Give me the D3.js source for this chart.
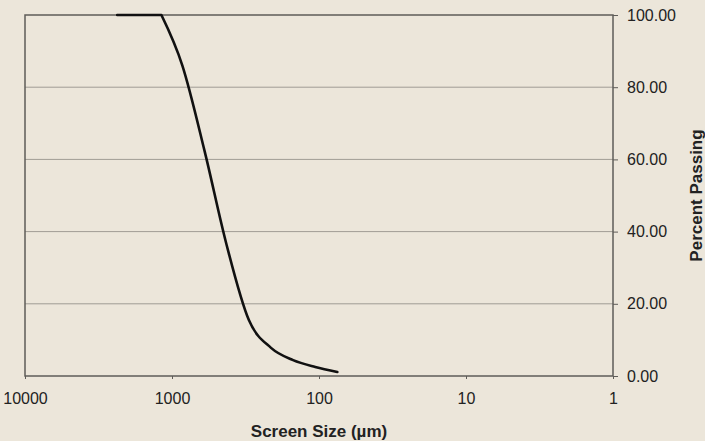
<!DOCTYPE html>
<html>
<head>
<meta charset="utf-8">
<script src="https://cdn.jsdelivr.net/npm/d3@7"></script>
<style>
  html, body { margin: 0; padding: 0; background: #ece6da; }
  svg { display: block; }
  text { font-family: "Liberation Sans", Arial, sans-serif; fill: #222; }
</style>
</head>
<body>
<svg id="chart" width="705" height="441"></svg>
<script>
// Data: screen size (µm) and cumulative percent passing
const sizes   = [2360, 1180, 850, 600, 425, 300, 212, 150, 106, 75];
const passing = [100, 100, 86.0, 62.3, 36.3, 15.5, 7.8, 4.4, 2.5, 1.1];
const xTicks  = [10000, 1000, 100, 10, 1];
const yTicks  = [0, 20, 40, 60, 80, 100];
const xTitle  = "Screen Size (µm)";
const yTitle  = "Percent Passing";

(function () {
const svg = d3.select("#chart");
const pL = 25, pR = 613, pT = 15, pB = 376;

const x = d3.scaleLog().domain([10000, 1]).range([pL, pR]);
const y = d3.scaleLinear().domain([0, 100]).range([pB, pT]);

// horizontal gridlines
svg.append("g").selectAll("line").data(yTicks.filter(d => d > 0 && d < 100)).join("line")
  .attr("x1", pL).attr("x2", pR)
  .attr("y1", d => y(d)).attr("y2", d => y(d))
  .attr("stroke", "#a09c94").attr("stroke-width", 1);

// frame
svg.append("rect").attr("x", pL).attr("y", pT)
  .attr("width", pR - pL).attr("height", pB - pT)
  .attr("fill", "none").attr("stroke", "#5e5c58").attr("stroke-width", 1.5);

// right axis
const yAxis = d3.axisRight(y).tickValues(yTicks).tickFormat(d3.format(".2f"))
  .tickSize(5).tickPadding(9);
const gy = svg.append("g").attr("transform", `translate(${pR},0)`).call(yAxis);
gy.select(".domain").remove();
gy.selectAll(".tick line").attr("stroke", "#5e5c58");
gy.selectAll(".tick text").attr("font-size", 16).attr("fill", "#222")
  .attr("font-family", "Liberation Sans, Arial, sans-serif");

// bottom axis
const xAxis = d3.axisBottom(x).tickValues(xTicks).tickFormat(d3.format("d"))
  .tickSize(3).tickPadding(14);
const gx = svg.append("g").attr("transform", `translate(0,${pB})`).call(xAxis);
gx.select(".domain").remove();
gx.selectAll(".tick line").attr("stroke", "#5e5c58");
gx.selectAll(".tick text").attr("font-size", 16).attr("fill", "#222")
  .attr("font-family", "Liberation Sans, Arial, sans-serif");

// curve: flat top segment, then smooth monotone descent
const pts = sizes.map((s, i) => [s, passing[i]]);
const firstDrop = passing.lastIndexOf(100);
const flat = pts.slice(0, firstDrop + 1);
const drop = pts.slice(firstDrop);
const lineFlat = d3.line().x(d => x(d[0])).y(d => y(d[1]));
const lineDrop = d3.line().x(d => x(d[0])).y(d => y(d[1])).curve(d3.curveMonotoneX);
svg.append("path").attr("d", lineFlat(flat) + lineDrop(drop).replace(/^M[^CLc]*/, m => "L" + m.slice(1)))
  .attr("fill", "none").attr("stroke", "#111").attr("stroke-width", 2.6)
  .attr("stroke-linecap", "round").attr("stroke-linejoin", "round");

// titles
svg.append("text").attr("x", (pL + pR) / 2).attr("y", 431)
  .attr("text-anchor", "middle").attr("dominant-baseline", "central")
  .attr("font-size", 17).attr("font-weight", "bold").text(xTitle);

svg.append("text")
  .attr("transform", `translate(696,${(pT + pB) / 2}) rotate(-90)`)
  .attr("text-anchor", "middle").attr("dominant-baseline", "central")
  .attr("font-size", 17).attr("font-weight", "bold").text(yTitle);
})();
</script>
</body>
</html>
